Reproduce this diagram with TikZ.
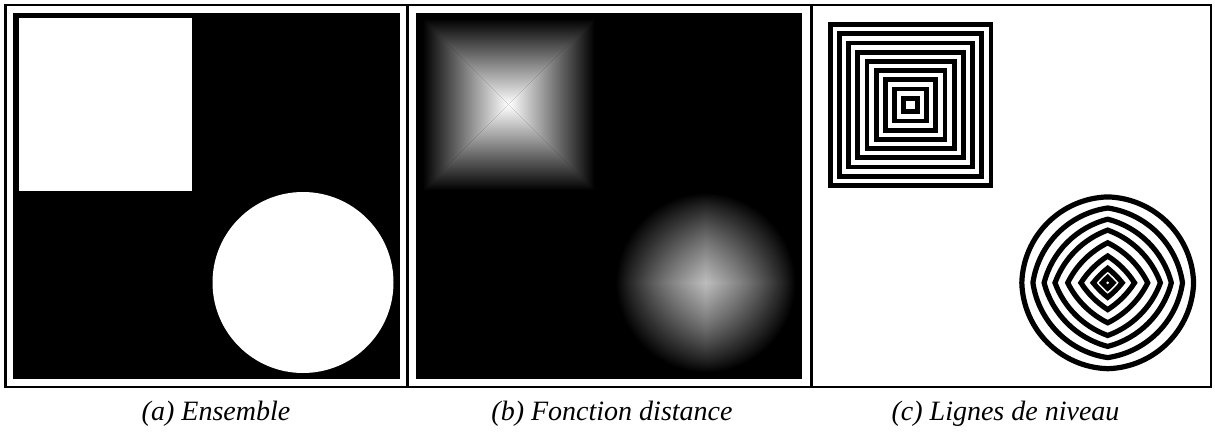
\documentclass[tikz,border=0pt]{standalone}
\usepackage{fontspec}
\setmainfont{Liberation Serif}
\begin{document}
\begin{tikzpicture}[x=1pt,y=-1pt,
  framestyle/.style={line width=2.5pt,black},
  divider/.style={line width=3pt,black},
  imgbox/.style={fill=black},
  stripe/.style={draw=black,line width=4.8pt,line join=miter},
  ring/.style={draw=black,line width=5.2pt},
  caption/.style={font=\fontsize{28}{32}\selectfont\itshape,anchor=base,inner sep=0pt}]
\useasboundingbox (0,0) rectangle (1215,433);
\fill[white] (0,0) rectangle (1215,433);
% frame and dividers
\draw[framestyle] (5.3,5.2) rectangle (1211.2,387);
\draw[divider] (407.5,5.2) -- (407.5,387);
\draw[divider] (811.3,5.2) -- (811.3,387);
% (a) set
\fill[imgbox] (13,13) rectangle (400,379);
\fill[white] (19,18) rectangle (192,191);
\fill[white] (303,282.5) circle (90.5);
% (b) distance function
\fill[imgbox] (416,13) rectangle (802,379);
\begin{scope}[shift={(508.5,104.5)}]
  \shade[top color=black,bottom color=white] (-86,-86) -- (86,-86) -- (0,0) -- cycle;
  \shade[top color=white,bottom color=black] (-86,86) -- (86,86) -- (0,0) -- cycle;
  \shade[left color=black,right color=white] (-86,-86) -- (-86,86) -- (0,0) -- cycle;
  \shade[left color=white,right color=black] (86,-86) -- (86,86) -- (0,0) -- cycle;
\end{scope}
\begin{scope}[shift={(706,283)}]
  \foreach \tk in {0,1,...,63} {
    \pgfmathsetmacro\rk{sqrt(8190.25-\tk*\tk)-\tk}
    \pgfmathsetmacro\al{asin(\tk/90.5)}
    \pgfmathsetmacro\pc{100*\tk/86}
    \fill[white!\pc!black] (\rk,0)
      arc[start angle=\al, end angle={90-\al}, radius=90.5]
      arc[start angle={90+\al}, end angle={180-\al}, radius=90.5]
      arc[start angle={180+\al}, end angle={270-\al}, radius=90.5]
      arc[start angle={270+\al}, end angle={360-\al}, radius=90.5] -- cycle;
  }
\end{scope}
% (c) level lines
\begin{scope}[shift={(910.6,105)}]
  \foreach \k in {0,...,8} {
    \pgfmathsetmacro\h{6.8+9.2*\k}
    \draw[stripe] (-\h,-\h) rectangle (\h,\h);
  }
\end{scope}
\begin{scope}[shift={(1107.7,282.8)}]
  \foreach \rr in {5.3,14.5,26.8,40.0,52.7,63.6,74.8,85.9} {
    \pgfmathsetmacro\tk{(-\rr+sqrt(15664.5-\rr*\rr))/2}
    \pgfmathsetmacro\al{asin(\tk/88.5)}
    \draw[ring] (\rr,0)
      arc[start angle=\al, end angle={90-\al}, radius=88.5]
      arc[start angle={90+\al}, end angle={180-\al}, radius=88.5]
      arc[start angle={180+\al}, end angle={270-\al}, radius=88.5]
      arc[start angle={270+\al}, end angle={360-\al}, radius=88.5] -- cycle;
  }
\end{scope}
% captions
\node[caption] (capa) at (216,420) {(a) Ensemble};
\node[caption] (capb) at (612,420) {(b) Fonction distance};
\node[caption] (capc) at (1005.5,420) {(c) Lignes de niveau};
\end{tikzpicture}
\end{document}
